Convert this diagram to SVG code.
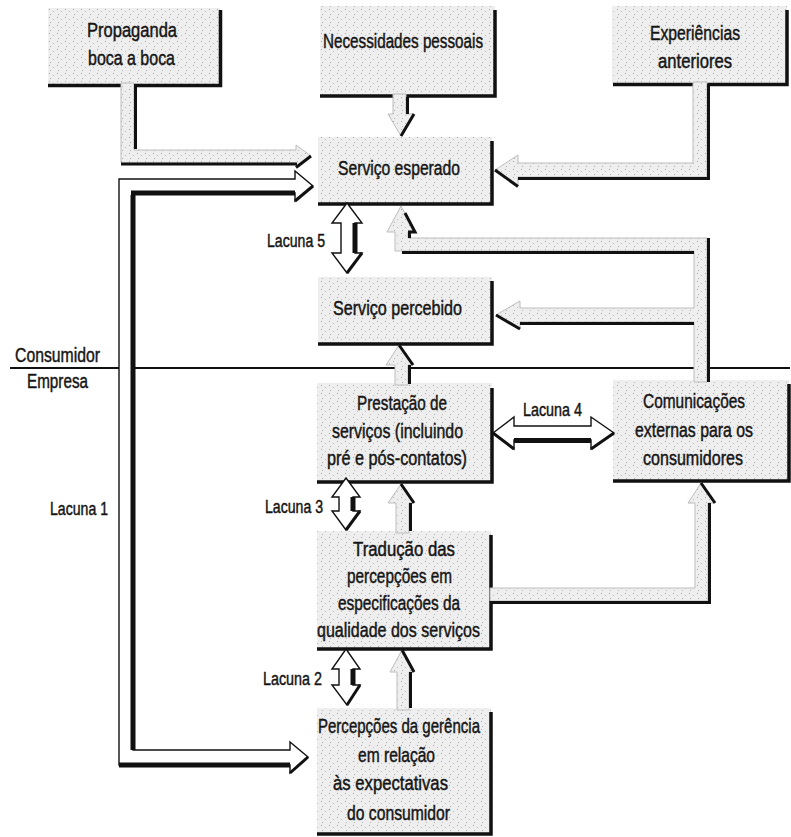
<svg xmlns="http://www.w3.org/2000/svg" width="791" height="837" viewBox="0 0 791 837">
<defs>
<pattern id="stip" width="8" height="8" patternUnits="userSpaceOnUse">
<rect width="8" height="8" fill="#eeeeee"/>
<rect x="1" y="1" width="1" height="1" fill="#a8a8a8"/>
<rect x="5" y="3" width="1" height="1" fill="#bcbcbc"/>
<rect x="2" y="6" width="1" height="1" fill="#b4b4b4"/>
</pattern>
<style>
.box{fill:url(#stip);}
.sh{fill:none;stroke:#111;stroke-width:3.5;stroke-linejoin:miter;}
.ga{fill:url(#stip);stroke:#bdbdbd;stroke-width:1;stroke-linejoin:miter;}
.wa{fill:#fff;stroke:#111;stroke-width:1.4;stroke-linejoin:miter;}
.bk{fill:none;stroke:#111;stroke-width:3;stroke-linejoin:miter;}
.bk5{fill:none;stroke:#111;stroke-width:5;stroke-linejoin:miter;}
.t{font-family:"Liberation Sans Narrow","Liberation Sans",Arial,sans-serif;font-size:20px;fill:#151515;stroke:#151515;stroke-width:0.45px;}
.l{font-size:18px;}
.div{stroke:#111;stroke-width:2;}
</style>
</defs>
<rect width="791" height="837" fill="#fff"/>

<g id="divider">
<line class="div" x1="10" y1="368" x2="790" y2="368"/>
<text class="t" x="15" y="362" textLength="85" lengthAdjust="spacingAndGlyphs">Consumidor</text>
<text class="t" x="27" y="388" textLength="61" lengthAdjust="spacingAndGlyphs">Empresa</text>
</g>

<g id="propaganda">
<rect class="box" x="48" y="8" width="172" height="77"/>
<path class="sh" d="M220.5,10 V85.5 H48"/>
<text class="t" x="87" y="37" textLength="90" lengthAdjust="spacingAndGlyphs">Propaganda</text>
<text class="t" x="88" y="65" textLength="87" lengthAdjust="spacingAndGlyphs">boca a boca</text>
</g>

<g id="necessidades">
<rect class="box" x="320" y="6" width="175" height="90"/>
<path class="sh" d="M495,10 V96 H320"/>
<text class="t" x="323" y="48" textLength="160" lengthAdjust="spacingAndGlyphs">Necessidades pessoais</text>
</g>

<g id="experiencias">
<rect class="box" x="612" y="6" width="175" height="78"/>
<path class="sh" d="M787,10 V84.5 H613"/>
<text class="t" x="650" y="40" textLength="90" lengthAdjust="spacingAndGlyphs">Experiências</text>
<text class="t" x="658" y="68" textLength="74" lengthAdjust="spacingAndGlyphs">anteriores</text>
</g>

<g id="servico-esperado">
<rect class="box" x="318" y="137" width="174" height="67"/>
<path class="sh" d="M492,141 V204 H318"/>
<text class="t" x="338" y="175" textLength="122" lengthAdjust="spacingAndGlyphs">Serviço esperado</text>
</g>

<g id="servico-percebido">
<rect class="box" x="318" y="277" width="174" height="67"/>
<path class="sh" d="M492,281 V344 H318"/>
<text class="t" x="333" y="315" textLength="129" lengthAdjust="spacingAndGlyphs">Serviço percebido</text>
</g>

<g id="prestacao">
<rect class="box" x="317" y="383" width="175" height="99"/>
<path class="sh" d="M492,388 V482 H317"/>
<text class="t" x="357" y="410" textLength="90" lengthAdjust="spacingAndGlyphs">Prestação de</text>
<text class="t" x="332" y="438" textLength="131" lengthAdjust="spacingAndGlyphs">serviços (incluindo</text>
<text class="t" x="327" y="465" textLength="140" lengthAdjust="spacingAndGlyphs">pré e pós-contatos)</text>
</g>

<g id="comunicacoes">
<rect class="box" x="613" y="380" width="176" height="101"/>
<path class="sh" d="M789,384 V481 H613"/>
<text class="t" x="643" y="408" textLength="102" lengthAdjust="spacingAndGlyphs">Comunicações</text>
<text class="t" x="635" y="437" textLength="118" lengthAdjust="spacingAndGlyphs">externas para os</text>
<text class="t" x="643" y="465" textLength="100" lengthAdjust="spacingAndGlyphs">consumidores</text>
</g>

<g id="traducao">
<rect class="box" x="317" y="531" width="174" height="118"/>
<path class="sh" d="M491,535 V649 H317"/>
<text class="t" x="353" y="556" textLength="102" lengthAdjust="spacingAndGlyphs">Tradução das</text>
<text class="t" x="347" y="583" textLength="105" lengthAdjust="spacingAndGlyphs">percepções em</text>
<text class="t" x="338" y="610" textLength="122" lengthAdjust="spacingAndGlyphs">especificações da</text>
<text class="t" x="317" y="637" textLength="163" lengthAdjust="spacingAndGlyphs">qualidade dos serviços</text>
</g>

<g id="percepcoes">
<rect class="box" x="317" y="708" width="174" height="126"/>
<path class="sh" d="M491,712 V834 H317"/>
<text class="t" x="318" y="733" textLength="162" lengthAdjust="spacingAndGlyphs">Percepções da gerência</text>
<text class="t" x="358" y="762" textLength="77" lengthAdjust="spacingAndGlyphs">em relação</text>
<text class="t" x="333" y="790" textLength="115" lengthAdjust="spacingAndGlyphs">às expectativas</text>
<text class="t" x="347" y="820" textLength="103" lengthAdjust="spacingAndGlyphs">do consumidor</text>
</g>

<g id="connectors">
<!-- Propaganda -> Servico esperado -->
<polygon class="ga" points="121,83 134,83 134,150 296,150 296,145 311,156 296,167 296,163 121,163"/>
<path class="bk" d="M135.5,84 V149"/>
<path class="bk" d="M121,164 H297"/>
<path class="bk" d="M311,156 L296,167.5"/>

<!-- Lacuna 1 -->
<polygon class="wa" points="313,186 295,201 295,193 133,193 133,750 290,750 290,742 308,757 290,773 290,765 119,765 119,179 295,179 295,171"/>
<path class="bk5" d="M133,195 V750"/>
<path class="bk5" d="M131,193 H295"/>
<path class="bk5" d="M119,765 H290"/>
<path class="bk" d="M313,186 L295,201"/>
<path class="bk" d="M308,757 L290,773"/>

<!-- Necessidades -> Servico esperado -->
<polygon class="ga" points="393,94 406,94 406,114 414,114 401,136 388,114 393,114"/>
<path class="bk" d="M407.5,97 V114 M414,114 L401,136"/>

<!-- Experiencias -> Servico esperado -->
<polygon class="ga" points="693,82 707,82 707,177 518,177 518,186 495,170 518,155 518,163 693,163"/>
<path class="bk" d="M708.5,84 V178.5 H518"/>
<path class="bk" d="M495,170 L518,186.5"/>

<!-- Comunicacoes -> Servico esperado / Servico percebido -->
<polygon class="ga" points="707,382 707,238 408,238 408,232 415,232 401,206 387,232 395,232 395,251 694,251 694,308 520,308 520,301 496,315 520,329 520,322 694,322 694,382"/>
<path class="bk" d="M708.5,382 V238"/>
<path class="bk" d="M402,252.5 H694"/>
<path class="bk" d="M405,213 L415,232 H409.5 V238"/>
<path class="bk" d="M520,323.5 H694"/>
<path class="bk" d="M496,315 L520,329"/>

<!-- Prestacao -> Servico percebido -->
<polygon class="ga" points="395,385 395,365 386,365 399,345 413,365 408,365 408,385"/>
<path class="bk" d="M409.5,365 V384 M399,345 L413,365"/>

<!-- Traducao -> Prestacao -->
<polygon class="ga" points="396,533 396,503 388,503 401,484 414,503 409,503 409,533"/>
<path class="bk" d="M410.5,503 V531 M401,484 L414,503"/>

<!-- Percepcoes -> Traducao -->
<polygon class="ga" points="397,710 397,672 390,672 402,650 414,672 409,672 409,710"/>
<path class="bk" d="M410.5,672 V708 M402,650 L414,672"/>

<!-- Traducao -> Comunicacoes -->
<polygon class="ga" points="490,588 695,588 695,503 688,503 701,483 715,503 708,503 708,601 490,601"/>
<path class="bk" d="M490,602.5 H709.5 V503"/>
<path class="bk" d="M701,483 L715,503"/>

<!-- Lacuna 4 -->
<polygon class="wa" points="493,433 514,417 514,426 591,426 591,417 614,433 591,449 591,440 514,440 514,449"/>
<path class="bk5" d="M514,440.5 H591"/>
<path class="bk" d="M614,433 L591,449 M493,433 L514,449"/>

<!-- Lacuna 5 -->
<polygon class="wa" points="347,203 362,223 355,223 355,253 362,253 347,273 332,253 341,253 341,223 332,223"/>
<path class="bk5" d="M355,223 V253"/>
<path class="bk" d="M362,253 L347,273"/>

<!-- Lacuna 3 -->
<polygon class="wa" points="346,478 360,497 353,497 353,511 360,511 346,530 332,511 339,511 339,497 332,497"/>
<path class="bk5" d="M353,497 V511"/>
<path class="bk" d="M360,511 L346,530"/>

<!-- Lacuna 2 -->
<polygon class="wa" points="346,649 360,669 353,669 353,685 360,685 347,705 332,685 339,685 339,669 332,669"/>
<path class="bk5" d="M353,669 V685"/>
<path class="bk" d="M360,685 L347,705"/>
</g>

<g id="labels">
<text class="t l" x="267" y="247" textLength="58" lengthAdjust="spacingAndGlyphs">Lacuna 5</text>
<text class="t l" x="523" y="416" textLength="59" lengthAdjust="spacingAndGlyphs">Lacuna 4</text>
<text class="t l" x="50" y="515" textLength="58" lengthAdjust="spacingAndGlyphs">Lacuna 1</text>
<text class="t l" x="265" y="513" textLength="58" lengthAdjust="spacingAndGlyphs">Lacuna 3</text>
<text class="t l" x="263" y="685" textLength="59" lengthAdjust="spacingAndGlyphs">Lacuna 2</text>
</g>
</svg>
